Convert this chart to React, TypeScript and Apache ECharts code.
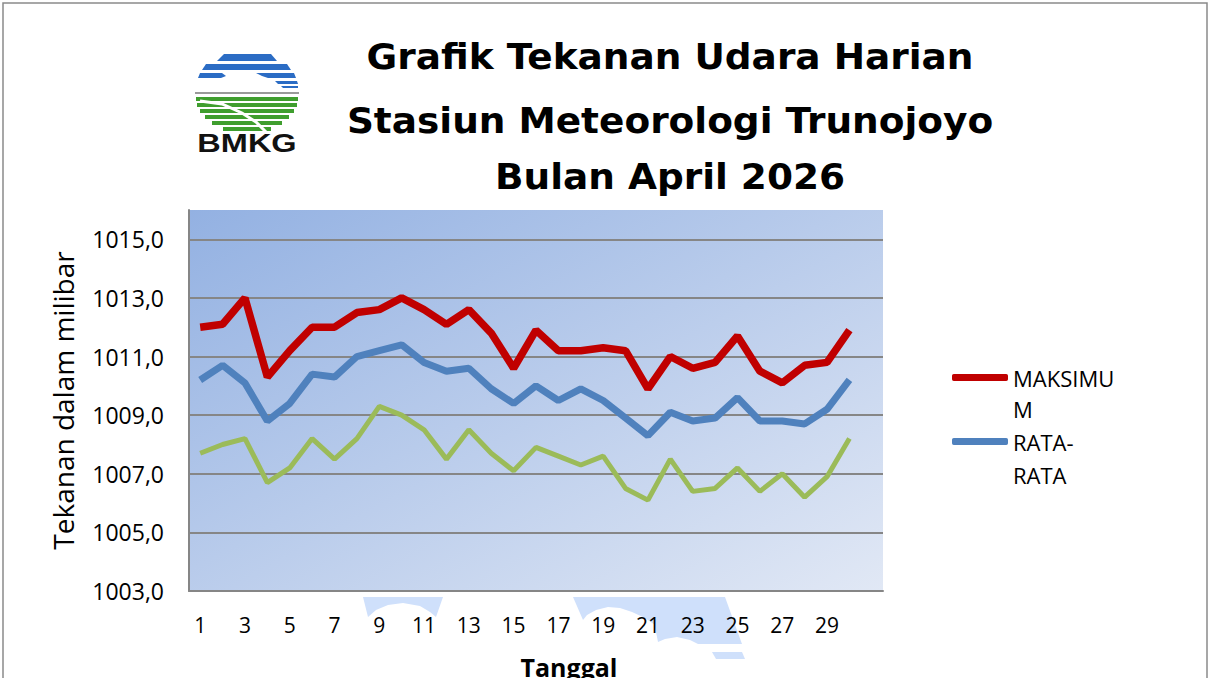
import React, { useEffect, useRef } from 'react';
import * as echarts from 'echarts';

const tanggal = ['1','2','3','4','5','6','7','8','9','10','11','12','13','14','15','16','17','18','19','20','21','22','23','24','25','26','27','28','29','30',''];
const maksimum = [1012.0,1012.1,1013.0,1010.3,1011.2,1012.0,1012.0,1012.5,1012.6,1013.0,1012.6,1012.1,1012.6,1011.8,1010.6,1011.9,1011.2,1011.2,1011.3,1011.2,1009.9,1011.0,1010.6,1010.8,1011.7,1010.5,1010.1,1010.7,1010.8,1011.9];
const rataRata = [1010.2,1010.7,1010.1,1008.8,1009.4,1010.4,1010.3,1011.0,1011.2,1011.4,1010.8,1010.5,1010.6,1009.9,1009.4,1010.0,1009.5,1009.9,1009.5,1008.9,1008.3,1009.1,1008.8,1008.9,1009.6,1008.8,1008.8,1008.7,1009.2,1010.2];
const minimum = [1007.7,1008.0,1008.2,1006.7,1007.2,1008.2,1007.5,1008.2,1009.3,1009.0,1008.5,1007.5,1008.5,1007.7,1007.1,1007.9,1007.6,1007.3,1007.6,1006.5,1006.1,1007.5,1006.4,1006.5,1007.2,1006.4,1007.0,1006.2,1006.9,1008.2];
const yTicks = [1003,1005,1007,1009,1011,1013,1015];
const titleLines = ['Grafik Tekanan Udara Harian','Stasiun Meteorologi Trunojoyo','Bulan April 2026'];

const FONT = '"Open Sans", "Noto Sans", sans-serif';
const GRID = '#868686';
const LOGO_BLUE = '#2b6cc4';
const LOGO_GREEN = '#3f9e2e';
const WM = '#cfe0fb';

function logoElements(): any[] {
  const els: any[] = [];
  const blue = [
    [[224,54],[271,54],[277,61],[217,61]],
    [[206,64],[287,64],[291,70],[202,70]],
    [[200,73],[222,73],[226,76],[221,78],[198,78]],
    [[256,73],[294,73],[296,78],[268,78],[262,76]],
    [[275,81],[297,81],[298,84],[278,84]],
    [[281,86],[298,86],[298,88],[283,88]],
  ];
  blue.forEach((p) => els.push({ type: 'polygon', shape: { points: p }, style: { fill: LOGO_BLUE } }));
  els.push({ type: 'rect', shape: { x: 195, y: 92, width: 104, height: 2 }, style: { fill: '#9a9a9a' } });
  const gy = [97, 103, 109, 115, 121, 127];
  const hw = [51, 50, 47, 42, 35, 24];
  gy.forEach((y, i) => els.push({ type: 'rect', shape: { x: 247 - hw[i], y, width: hw[i] * 2, height: 4 }, style: { fill: LOGO_GREEN } }));
  els.push({ type: 'polyline', shape: { points: [[200,101],[222,104],[242,113],[256,122],[266,132]] }, style: { stroke: '#ffffff', lineWidth: 3, fill: 'none' } });
  els.push({ type: 'text', x: 247, y: 143, scaleX: 1.25, style: { text: 'BMKG', fontFamily: '"Liberation Sans", Arial, sans-serif', fontWeight: 'bold', fontSize: 26, fill: '#111', align: 'center', verticalAlign: 'middle' } });
  return els;
}

export default function App() {
  const ref = useRef<HTMLDivElement>(null);
  useEffect(() => {
    document.body.style.margin = '0';
    if (!ref.current) return;
    const chart = echarts.init(ref.current, null, { renderer: 'svg' });
    const lineY = [57, 121, 177];
    const option: any = {
      animation: false,
      backgroundColor: '#ffffff',
      grid: {
        left: 189, top: 210, width: 694, height: 381, show: true, borderWidth: 0,
        outerBoundsMode: 'none', containLabel: false,
        backgroundColor: new echarts.graphic.LinearGradient(0, 0, 1, 1, [
          { offset: 0, color: '#93b1e2' },
          { offset: 1, color: '#e1e8f5' },
        ]),
      },
      legend: [
        {
          data: ['MAKSIMUM'], orient: 'vertical', left: 952, top: 331, padding: 0,
          itemWidth: 56, itemHeight: 7, icon: 'roundRect', selectedMode: false,
          formatter: () => '\nMAKSIMU\nM',
          textStyle: { fontFamily: FONT, fontSize: 22, color: '#000', lineHeight: 31 },
        },
        {
          data: ['RATA-RATA'], orient: 'vertical', left: 952, top: 392, padding: 0,
          itemWidth: 56, itemHeight: 7, icon: 'roundRect', selectedMode: false,
          formatter: () => '\nRATA-\nRATA',
          textStyle: { fontFamily: FONT, fontSize: 22, color: '#000', lineHeight: 33 },
        },
      ],
      xAxis: {
        type: 'category', data: tanggal, boundaryGap: true,
        axisLine: { lineStyle: { color: GRID, width: 2 } },
        axisTick: { show: false },
        axisLabel: { interval: 1, fontFamily: FONT, fontSize: 21, color: '#000', margin: 23 },
        name: 'Tanggal', nameLocation: 'middle', nameGap: 63,
        nameTextStyle: { fontFamily: FONT, fontSize: 25, fontWeight: 'bold', color: '#000', padding: [0, 0, 0, 66] },
      },
      yAxis: {
        type: 'value', min: 1003, max: 1016,
        axisLine: { show: true, lineStyle: { color: GRID, width: 2 } },
        axisTick: { show: false, customValues: yTicks },
        axisLabel: { customValues: yTicks, fontFamily: FONT, fontSize: 23, color: '#000', margin: 25, formatter: (v: number) => v.toFixed(1).replace('.', ',') },
        splitLine: { show: true, lineStyle: { color: GRID, width: 2 } },
        name: 'Tekanan dalam milibar', nameLocation: 'middle', nameGap: 112, nameRotate: 90,
        nameTextStyle: { fontFamily: FONT, fontSize: 28, color: '#000' },
      },
      series: [
        { name: 'MINIMUM', type: 'line', data: minimum, symbol: 'none', lineStyle: { color: '#9bbb59', width: 5 }, itemStyle: { color: '#9bbb59' } },
        { name: 'RATA-RATA', type: 'line', data: rataRata, symbol: 'none', lineStyle: { color: '#4f81bd', width: 7 }, itemStyle: { color: '#4f81bd' } },
        { name: 'MAKSIMUM', type: 'line', data: maksimum, symbol: 'none', lineStyle: { color: '#c00000', width: 7.5 }, itemStyle: { color: '#c00000' } },
      ],
      graphic: [
        { type: 'rect', z: -10, shape: { x: 3, y: 3, width: 1204, height: 720 }, style: { fill: 'none', stroke: '#8a8a8a', lineWidth: 1.5 } },
        { type: 'polygon', z: -5, shape: { points: [[363,597],[443,597],[436,617],[430,612],[420,606],[403,603],[388,605],[376,610],[368,617]] }, style: { fill: WM } },
        { type: 'polygon', z: -5, shape: { points: [[573,597],[725,597],[742,644],[698,644],[690,640],[677,637],[665,639],[658,642],[656,632],[655,625],[645,618],[632,612],[620,608],[608,607],[596,610],[587,615],[583,620]] }, style: { fill: WM } },
        { type: 'polygon', z: -5, shape: { points: [[712,652],[742,652],[745,659],[716,659]] }, style: { fill: WM } },
        ...titleLines.map((t, i) => ({
          type: 'text', x: 670, y: lineY[i], scaleX: 1.07,
          style: { text: t, fontFamily: '"DejaVu Sans", sans-serif', fontWeight: 'bold', fontSize: 35, fill: '#000', align: 'center', verticalAlign: 'middle' },
        })),
        ...logoElements(),
      ],
    };
    chart.setOption(option);
    return () => chart.dispose();
  }, []);
  return <div ref={ref} style={{ width: 1211, height: 678 }} />;
}
